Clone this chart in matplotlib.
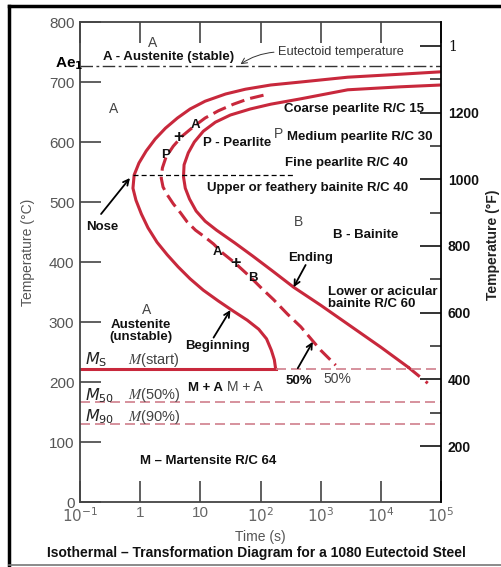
import matplotlib
matplotlib.use("Agg")
import matplotlib.pyplot as plt
import numpy as np
from matplotlib.lines import Line2D

plt.rcParams['font.family'] = ['Liberation Sans', 'DejaVu Sans']

RED = "#c8283c"
PINK = "#cf7f8c"
GRAY = "#555555"

# curves: log10(time / s), temperature (deg C)
begin_logt = [5.0, 4.33, 3.45, 2.67, 2.17, 1.75, 1.42, 1.08, 0.83, 0.62,
              0.42, 0.25, 0.10, -0.02, -0.10, -0.12, -0.07, 0.02, 0.13, 0.28,
              0.45, 0.63, 0.83, 1.05, 1.30, 1.55, 1.78, 1.97, 2.10, 2.18,
              2.23, 2.25]
begin_T = [717, 713, 708, 700, 695, 688, 680, 668, 655, 640,
           623, 605, 585, 565, 545, 523, 503, 480, 457, 433,
           412, 392, 372, 353, 335, 318, 303, 288, 272, 253,
           237, 223]

half_logt = [2.05, 1.80, 1.55, 1.30, 1.08, 0.88, 0.70, 0.55, 0.43, 0.37,
             0.35, 0.38, 0.45, 0.55, 0.67, 0.78, 0.92, 1.07, 1.22, 1.37,
             1.58, 1.83, 2.03, 2.22, 2.45, 2.67, 2.83, 3.0, 3.13, 3.25]
half_T = [678, 672, 663, 652, 640, 625, 610, 593, 575, 557,
          540, 525, 512, 497, 482, 467, 453, 442, 430, 415,
          398, 375, 355, 337, 313, 292, 273, 253, 240, 228]

end_logt = [5.0, 4.33, 3.45, 2.67, 2.17, 1.83, 1.50, 1.25, 1.05, 0.90,
            0.80, 0.73, 0.72, 0.75, 0.82, 0.93, 1.08, 1.27, 1.57, 1.87,
            2.20, 2.55, 3.0, 3.5, 4.0, 4.45]
end_T = [695, 692, 687, 672, 663, 655, 645, 633, 618, 600,
         582, 562, 542, 523, 505, 485, 468, 453, 432, 410,
         385, 358, 328, 293, 258, 225]
end_tail_logt = [4.45, 4.78]
end_tail_T = [225, 198]

Ae1 = 727
Ms = 222
M50 = 167
M90 = 130
nose_T = 545
nose_logt = [-0.12, 2.58]
ms_end_logt = 2.25

fig = plt.figure(figsize=(5.01, 5.67), dpi=100)
ax = fig.add_axes([80 / 501, 1 - 502 / 567, 361 / 501, 480 / 567])
ax.set_xscale("log")
ax.set_xlim(0.1, 1e5)
ax.set_ylim(0, 800)

t = lambda lg: 10 ** np.asarray(lg, dtype=float)

ax.plot(t(begin_logt), begin_T, color=RED, lw=2.2, solid_joinstyle="round")
ax.plot(t(end_logt), end_T, color=RED, lw=2.2, solid_joinstyle="round")
ax.plot(t(end_tail_logt), end_tail_T, color=RED, lw=2.2, dashes=(5, 2.5))
ax.plot(t(half_logt), half_T, color=RED, lw=2.2, dashes=(4.5, 2),
        dash_joinstyle="round")

ax.plot([0.1, t(ms_end_logt)], [Ms, Ms], color=RED, lw=2.2)
ax.plot([t(ms_end_logt), 1e5], [Ms, Ms], color=PINK, lw=1.2, dashes=(6, 3))
ax.plot([0.1, 1e5], [M50, M50], color=PINK, lw=1.2, dashes=(6, 3))
ax.plot([0.1, 1e5], [M90, M90], color=PINK, lw=1.2, dashes=(6, 3))
ax.plot([0.1, 1e5], [Ae1, Ae1], color="#333333", lw=1.0,
        dashes=(9, 2.5, 2, 2.5))
ax.plot(t(nose_logt), [nose_T, nose_T], color="black", lw=0.9, dashes=(4, 2.5))

# labels
bold = [
    ("A - Austenite (stable)", 2.93, 742, "center", 9.5),
    ("Coarse pearlite R/C 15", 3548, 655, "center", 9.5),
    ("P - Pearlite", 41.4, 598, "center", 9.5),
    ("Medium pearlite R/C 30", 4467, 608, "center", 9.5),
    ("Fine pearlite R/C 40", 2712, 565, "center", 9.5),
    ("Upper or feathery bainite R/C 40", 607, 523, "center", 9.5),
    ("Nose", 0.233, 458, "center", 9.5),
    ("B - Bainite", 5623, 445, "center", 9.5),
    ("Ending", 681, 407, "center", 9.5),
    ("Lower or acicular\nbainite R/C 60", 1308, 340, "left", 9.5),
    ("Austenite\n(unstable)", 1.04, 285, "center", 9.5),
    ("Beginning", 19.2, 260, "center", 9.5),
    ("M + A", 12.1, 190, "center", 9.5),
    ("50%", 430, 202, "center", 9.5),
    ("M \u2013 Martensite R/C 64", 13.6, 68, "center", 9.5),
    ("A", 8.26, 628, "center", 9.5),
    ("+", 4.3, 607, "center", 13),
    ("P", 2.61, 578, "center", 9.5),
    ("A", 19.2, 417, "center", 9.5),
    ("+", 38.3, 397, "center", 13),
    ("B", 73.6, 373, "center", 9.5),
]
for s, x, y, ha, fs in bold:
    ax.text(x, y, s, ha=ha, va="center", fontsize=fs, fontweight="bold",
            color="#111111", linespacing=1.05)

light = [
    ("A", 1.58, 765),
    ("A", 0.355, 655),
    ("P", 200, 614),
    ("B", 430, 467),
    ("A", 1.26, 320),
    ("M + A", 56, 192),
    ("50%", 1920, 205),
]
for s, x, y in light:
    ax.text(x, y, s, ha="center", va="center", fontsize=10, color="#444444")

ax.text(192, 750, "Eutectoid temperature", ha="left", va="center",
        fontsize=9.2, color="#333333")
ax.annotate("", xy=(t(1.63), 727), xytext=(t(2.27), 750),
            arrowprops=dict(arrowstyle="->", color="#333333", lw=0.7,
                            connectionstyle="arc3,rad=0.15"))

arrows = [((t(-0.17), 540), (t(-0.65), 480)),
          ((t(2.55), 358), (t(2.75), 395)),
          ((t(1.5), 320), (t(1.22), 274)),
          ((t(2.87), 267), (t(2.62), 223))]
for tip, tail in arrows:
    ax.annotate("", xy=tip, xytext=tail,
                arrowprops=dict(arrowstyle="->", color="black", lw=1.3,
                                shrinkA=0, shrinkB=0))

for sub, lab, y in [("S", "(start)", 237), ("50", "(50%)", 178),
                    ("90", "(90%)", 142)]:
    ax.text(0.121, y, r"$M_\mathrm{%s}$" % sub, fontsize=11.5,
            color="#222222", ha="left", va="center",
            math_fontfamily="dejavusans")
    ax.text(0.63, y, r"$M$" + lab, fontsize=10.5, color="#444444",
            ha="left", va="center", math_fontfamily="stix")

# axes styling
for sp in ["left", "bottom", "top"]:
    ax.spines[sp].set_color("#444444")
    ax.spines[sp].set_linewidth(1.3)
ax.spines["right"].set_visible(False)

ax.set_yticks(np.arange(0, 801, 100))
ax.set_yticklabels([str(v) for v in range(0, 801, 100)])
ax.tick_params(axis="y", direction="in", length=15, width=1.2, pad=4,
               labelsize=11, labelcolor=GRAY, color="#444444")
ax.set_xticks([0.1, 1, 10, 100, 1e3, 1e4, 1e5])
ax.set_xticklabels([r"$10^{-1}$", "1", "10", r"$10^2$", r"$10^3$",
                    r"$10^4$", r"$10^5$"])
ax.xaxis.set_minor_locator(matplotlib.ticker.NullLocator())
ax.tick_params(axis="x", direction="in", length=15, width=1.2, pad=3,
               labelsize=11, labelcolor="#666666", color="#444444",
               top=True, labeltop=False)
ax.text(0.115, 730, "Ae$_\\mathbf{1}$", ha="right",
        va="center", fontsize=11, fontweight="bold", clip_on=False)

ax2 = ax.twinx()
ax2.set_ylim(32, 1472)
ax2.spines["right"].set_color("black")
ax2.spines["right"].set_linewidth(1.3)
for sp in ["left", "bottom", "top"]:
    ax2.spines[sp].set_visible(False)
ax2.set_yticks([200, 400, 600, 800, 1000, 1200, 1400])
ax2.set_yticklabels(["200", "400", "600", "800", "1000", "1200", "1"])
ax2.set_yticks([300, 500, 700, 900, 1100, 1300], minor=True)
ax2.tick_params(axis="y", which="major", direction="in", length=15, width=1.2,
                pad=5, labelsize=10, colors="#111111")
ax2.tick_params(axis="y", which="minor", direction="in", length=8, width=1.2,
                color="#333333")
for lab in ax2.get_yticklabels():
    lab.set_fontweight("bold")
ax2.get_yticklabels()[-1].set_family("DejaVu Serif")
ax2.get_yticklabels()[-1].set_fontweight("normal")

fig.text(28 / 501, 1 - 252 / 567, "Temperature (\u00b0C)", rotation=90,
         ha="center", va="center", fontsize=10, color=GRAY)
fig.text(493 / 501, 1 - 245 / 567, "Temperature (\u00b0F)", rotation=90,
         ha="center", va="center", fontsize=10, fontweight="bold",
         color="#222222")
fig.text(260 / 501, 1 - 537 / 567, "Time (s)", ha="center", va="center",
         fontsize=10, color=GRAY)
fig.text(256 / 501, 1 - 553 / 567,
         "Isothermal \u2013 Transformation Diagram for a 1080 Eutectoid Steel",
         ha="center", va="center", fontsize=10, fontweight="bold",
         color="#111111")

# outer frame
fig.add_artist(Line2D([9 / 501, 9 / 501], [1 - 565 / 567, 1 - 6 / 567],
                      color="black", lw=2.5, transform=fig.transFigure))
fig.add_artist(Line2D([9 / 501, 1], [1 - 6 / 567, 1 - 6 / 567],
                      color="black", lw=2.5, transform=fig.transFigure))
fig.add_artist(Line2D([9 / 501, 1], [1 - 565 / 567, 1 - 565 / 567],
                      color="#777777", lw=1.2, transform=fig.transFigure))

fig.savefig("out.png", dpi=100)
